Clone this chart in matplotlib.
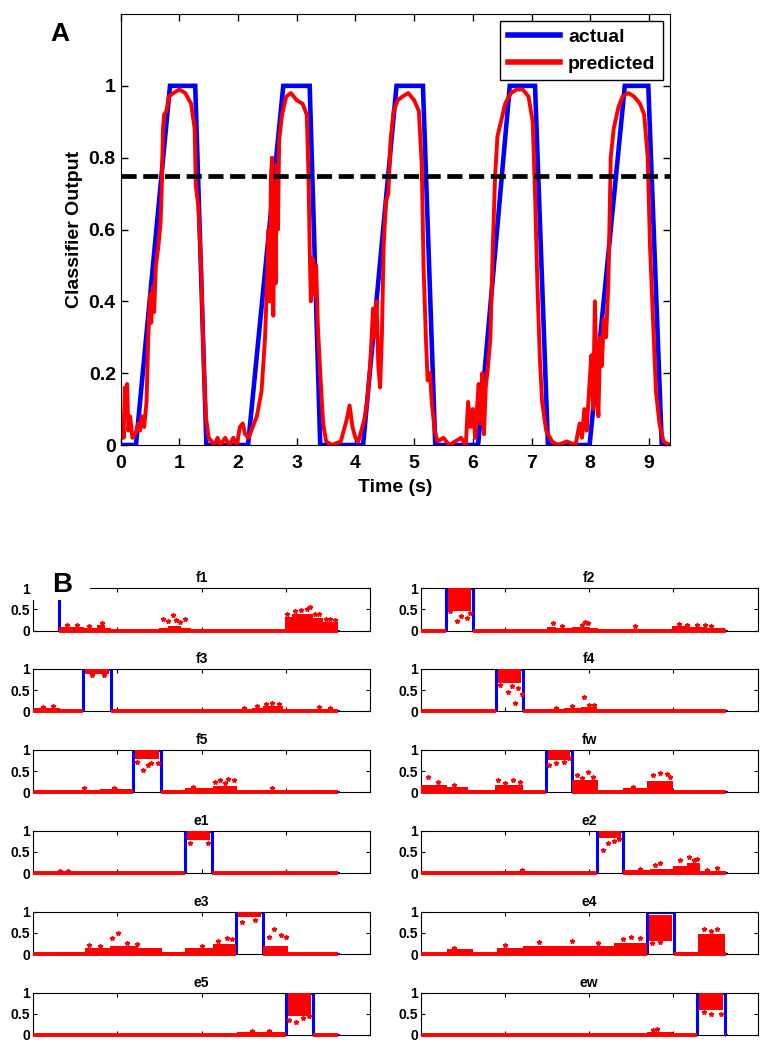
import matplotlib
matplotlib.use("Agg")
import matplotlib.pyplot as plt
from matplotlib.patches import Rectangle

plt.rcParams['font.family'] = ['Liberation Sans', 'DejaVu Sans']
plt.rcParams['font.weight'] = 'bold'
plt.rcParams['axes.labelweight'] = 'bold'

W, H = 771, 1050

# ---- panel A data ----
actual_t = [0, 0.26, 0.84, 1.27, 1.46, 2.17, 2.77, 3.22, 3.40, 4.13, 4.70, 5.15,
            5.36, 6.09, 6.63, 7.06, 7.28, 7.99, 8.59, 8.99, 9.22, 9.36]
actual_v = [0, 0, 1, 1, 0, 0, 1, 1, 0, 0, 1, 1, 0, 0, 1, 1, 0, 0, 1, 1, 0, 0]

pred_t = [0.00, 0.03, 0.05, 0.07, 0.09, 0.11, 0.13, 0.16, 0.20, 0.25, 0.30, 0.33, 0.36, 0.40,
          0.44, 0.47, 0.50, 0.52, 0.55, 0.57, 0.60, 0.64, 0.68, 0.70, 0.72, 0.74, 0.78, 0.82,
          0.90, 1.00, 1.10, 1.20, 1.26, 1.28, 1.32, 1.37, 1.41, 1.45, 1.50, 1.60, 1.65, 1.70,
          1.78, 1.85, 1.92, 1.98, 2.03, 2.08, 2.12, 2.18, 2.25, 2.32, 2.40, 2.46, 2.50, 2.52,
          2.54, 2.56, 2.58, 2.60, 2.62, 2.64, 2.66, 2.68, 2.70, 2.75, 2.82, 2.90, 3.00, 3.10,
          3.17, 3.20, 3.22, 3.24, 3.27, 3.30, 3.33, 3.36, 3.40, 3.45, 3.50, 3.60, 3.75, 3.85,
          3.90, 3.95, 4.00, 4.05, 4.10, 4.15, 4.20, 4.25, 4.30, 4.33, 4.36, 4.39, 4.42, 4.45,
          4.48, 4.52, 4.56, 4.60, 4.65, 4.72, 4.80, 4.90, 5.00, 5.08, 5.13, 5.16, 5.20, 5.23,
          5.27, 5.30, 5.35, 5.40, 5.50, 5.60, 5.70, 5.80, 5.88, 5.92, 5.96, 6.00, 6.04, 6.07,
          6.10, 6.13, 6.16, 6.19, 6.22, 6.26, 6.30, 6.34, 6.38, 6.42, 6.48, 6.55, 6.65, 6.75,
          6.85, 6.95, 7.02, 7.06, 7.10, 7.14, 7.18, 7.25, 7.35, 7.45, 7.60, 7.75, 7.82, 7.86,
          7.90, 7.94, 7.98, 8.02, 8.05, 8.08, 8.11, 8.14, 8.17, 8.20, 8.23, 8.27, 8.31, 8.35,
          8.40, 8.48, 8.55, 8.65, 8.75, 8.85, 8.92, 8.98, 9.02, 9.07, 9.12, 9.18, 9.25, 9.35]
pred_v = [0.02, 0.08, 0.02, 0.16, 0.12, 0.17, 0.04, 0.08, 0.02, 0.03, 0.06, 0.04, 0.08, 0.05,
          0.12, 0.30, 0.42, 0.34, 0.44, 0.37, 0.50, 0.55, 0.62, 0.72, 0.88, 0.92, 0.93, 0.97,
          0.98, 0.99, 0.98, 0.95, 0.88, 0.72, 0.67, 0.50, 0.25, 0.08, 0.02, 0.00, 0.02, 0.00,
          0.02, 0.00, 0.02, 0.00, 0.05, 0.06, 0.03, 0.02, 0.05, 0.08, 0.15, 0.30, 0.48, 0.60,
          0.40, 0.75, 0.80, 0.36, 0.72, 0.45, 0.78, 0.60, 0.85, 0.92, 0.97, 0.98, 0.96, 0.95,
          0.92, 0.75, 0.55, 0.40, 0.52, 0.42, 0.50, 0.33, 0.20, 0.06, 0.01, 0.00, 0.01, 0.07,
          0.11, 0.05, 0.02, 0.01, 0.04, 0.07, 0.12, 0.22, 0.38, 0.30, 0.40, 0.22, 0.16, 0.30,
          0.55, 0.68, 0.70, 0.85, 0.93, 0.96, 0.97, 0.98, 0.96, 0.93, 0.78, 0.50, 0.30, 0.18,
          0.20, 0.12, 0.04, 0.01, 0.02, 0.00, 0.01, 0.02, 0.00, 0.12, 0.05, 0.10, 0.02, 0.10,
          0.17, 0.06, 0.20, 0.03, 0.16, 0.22, 0.30, 0.55, 0.75, 0.86, 0.90, 0.95, 0.98, 0.99,
          0.99, 0.97, 0.90, 0.70, 0.45, 0.25, 0.12, 0.04, 0.01, 0.00, 0.01, 0.00, 0.06, 0.02,
          0.10, 0.04, 0.15, 0.25, 0.10, 0.40, 0.18, 0.08, 0.30, 0.22, 0.35, 0.30, 0.45, 0.80,
          0.88, 0.94, 0.97, 0.98, 0.97, 0.95, 0.92, 0.80, 0.55, 0.35, 0.15, 0.06, 0.01, 0.00]
threshold = 0.75

# ---- panel B data (sample index axis) ----
titles = ['f1', 'f2', 'f3', 'f4', 'f5', 'fw', 'e1', 'e2', 'e3', 'e4', 'e5', 'ew']
n_samples = 1810
pulse_on = [0, 148, 299, 447, 595, 744, 902, 1044, 1205, 1341, 1501, 1642]
pulse_off = [156, 312, 463, 609, 760, 900, 1060, 1203, 1363, 1503, 1660, 1806]
band_lo = [0.85, 0.45, 0.88, 0.68, 0.78, 0.76, 0.78, 0.82, 0.88, 0.32, 0.45, 0.6]
band_hi = [1.0, 1.0, 1.0, 1.0, 1.0, 1.0, 1.0, 1.0, 1.0, 0.93, 1.0, 1.0]

# (start, end, level) of the dense predicted-noise clouds
noise = [
    [(156, 300, 0.09), (300, 380, 0.07), (380, 430, 0.12), (430, 460, 0.05), (460, 750, 0.02),
     (750, 800, 0.07), (800, 880, 0.1), (880, 940, 0.07), (940, 1060, 0.04), (1060, 1495, 0.01),
     (1495, 1540, 0.32), (1540, 1600, 0.38), (1600, 1660, 0.4), (1660, 1720, 0.3), (1720, 1810, 0.2)],
    [(0, 148, 0.02), (312, 748, 0.02), (748, 800, 0.08), (800, 900, 0.06), (900, 1000, 0.09),
     (1000, 1054, 0.05), (1054, 1490, 0.02), (1490, 1600, 0.1), (1600, 1700, 0.08), (1700, 1806, 0.05)],
    [(0, 160, 0.07), (160, 299, 0.04), (463, 990, 0.03), (990, 1210, 0.03), (1210, 1300, 0.05),
     (1300, 1367, 0.09), (1367, 1485, 0.13), (1485, 1655, 0.02), (1655, 1810, 0.06)],
    [(0, 447, 0.03), (609, 748, 0.02), (748, 850, 0.06), (850, 950, 0.09), (950, 1044, 0.11),
     (1044, 1806, 0.03)],
    [(0, 160, 0.02), (160, 400, 0.05), (400, 595, 0.07), (760, 902, 0.02), (902, 1000, 0.09),
     (1000, 1070, 0.11), (1070, 1208, 0.14), (1208, 1357, 0.02), (1357, 1466, 0.06),
     (1466, 1655, 0.02), (1655, 1810, 0.05)],
    [(0, 154, 0.18), (154, 283, 0.13), (283, 441, 0.05), (441, 609, 0.18), (609, 742, 0.02),
     (900, 1054, 0.28), (1054, 1202, 0.03), (1202, 1341, 0.09), (1341, 1500, 0.27),
     (1500, 1657, 0.03), (1657, 1806, 0.05)],
    [(0, 902, 0.02), (1060, 1810, 0.02)],
    [(0, 450, 0.01), (450, 748, 0.05), (748, 1044, 0.01), (1203, 1360, 0.07), (1360, 1500, 0.11),
     (1500, 1580, 0.18), (1580, 1657, 0.23), (1657, 1737, 0.05), (1737, 1806, 0.05)],
    [(0, 170, 0.02), (170, 309, 0.05), (309, 457, 0.14), (457, 625, 0.18), (625, 764, 0.14),
     (764, 902, 0.05), (902, 1070, 0.14), (1070, 1205, 0.23), (1363, 1515, 0.18), (1515, 1810, 0.03)],
    [(0, 154, 0.03), (154, 312, 0.11), (312, 450, 0.03), (450, 609, 0.14), (609, 800, 0.18),
     (800, 1000, 0.2), (1000, 1150, 0.19), (1150, 1341, 0.25), (1503, 1648, 0.06), (1648, 1806, 0.48)],
    [(0, 1010, 0.01), (1010, 1208, 0.03), (1208, 1495, 0.06), (1660, 1810, 0.02)],
    [(0, 1341, 0.01), (1341, 1500, 0.07), (1500, 1642, 0.02)],
]

# isolated predicted points sticking out of the clouds
outliers = [
    [(407, 0.18), (773, 0.28), (803, 0.22), (829, 0.36), (850, 0.25), (872, 0.2), (902, 0.26),
     (200, 0.12), (260, 0.13), (330, 0.1), (1510, 0.4), (1555, 0.45), (1590, 0.48), (1624, 0.5),
     (1645, 0.55), (1675, 0.38), (1700, 0.4), (1740, 0.27), (1760, 0.28), (1790, 0.25)],
    [(174, 0.45), (214, 0.22), (240, 0.35), (273, 0.3), (290, 0.42), (787, 0.18), (840, 0.1),
     (960, 0.12), (975, 0.2), (995, 0.18), (1272, 0.1), (1530, 0.15), (1580, 0.13),
     (1640, 0.14), (1690, 0.12), (1720, 0.1)],
    [(350, 0.86), (420, 0.85), (60, 0.1), (120, 0.12), (1250, 0.07), (1330, 0.12), (1380, 0.18),
     (1420, 0.2), (1460, 0.17), (1700, 0.1), (1760, 0.09)],
    [(470, 0.62), (520, 0.45), (540, 0.6), (560, 0.19), (580, 0.55), (600, 0.42), (800, 0.09),
     (900, 0.12), (969, 0.33), (1000, 0.16), (1030, 0.14)],
    [(620, 0.72), (651, 0.53), (680, 0.65), (700, 0.7), (740, 0.68), (300, 0.1), (480, 0.09),
     (950, 0.12), (1080, 0.25), (1110, 0.3), (1140, 0.22), (1160, 0.32), (1190, 0.28), (1420, 0.1)],
    [(760, 0.65), (800, 0.7), (850, 0.72), (880, 0.8), (45, 0.35), (100, 0.25), (200, 0.18),
     (460, 0.3), (500, 0.22), (550, 0.28), (590, 0.25), (930, 0.4), (960, 0.33), (995, 0.48),
     (1020, 0.35), (1260, 0.12), (1380, 0.4), (1420, 0.45), (1460, 0.42), (1480, 0.35)],
    [(930, 0.72), (1040, 0.7), (160, 0.05), (210, 0.06), (1500, 0.04)],
    [(1084, 0.55), (1110, 0.7), (1150, 0.75), (1175, 0.8), (600, 0.07), (1300, 0.1),
     (1390, 0.2), (1420, 0.25), (1540, 0.3), (1590, 0.38), (1620, 0.3), (1640, 0.33),
     (1700, 0.08), (1760, 0.12)],
    [(1240, 0.75), (1320, 0.8), (330, 0.22), (400, 0.2), (467, 0.37), (506, 0.5), (560, 0.25),
     (620, 0.24), (1000, 0.2), (1100, 0.3), (1150, 0.38), (1180, 0.35), (1400, 0.4),
     (1430, 0.6), (1470, 0.45), (1500, 0.4)],
    [(1370, 0.25), (1420, 0.28), (200, 0.15), (500, 0.22), (700, 0.28), (900, 0.3), (1050, 0.26),
     (1200, 0.35), (1250, 0.4), (1300, 0.38), (1680, 0.6), (1720, 0.55), (1760, 0.58)],
    [(1520, 0.35), (1560, 0.3), (1600, 0.4), (1640, 0.45), (1300, 0.1), (1400, 0.09)],
    [(1680, 0.55), (1720, 0.5), (1780, 0.5), (1380, 0.12), (1400, 0.15)],
]

BLUE = '#0000ff'
RED = '#ff0000'

fig = plt.figure(figsize=(W / 100, H / 100), dpi=100)

# ---------------- panel A ----------------
axA = fig.add_axes([120.7 / W, 1 - 445 / H, 549.3 / W, 431 / H])
axA.plot(actual_t, actual_v, color=BLUE, lw=3.3, label='actual', solid_joinstyle='miter')
axA.plot(pred_t, pred_v, color=RED, lw=2.8, label='predicted')
axA.axhline(threshold, color='black', lw=3.4, dashes=(3.2, 1.4))
axA.set_xlim(0, 9.36)
axA.set_ylim(0, 1.2)
axA.set_xticks(range(10))
axA.set_yticks([0, 0.2, 0.4, 0.6, 0.8, 1])
axA.set_yticklabels(['0', '0.2', '0.4', '0.6', '0.8', '1'])
axA.tick_params(direction='in', top=True, right=True, length=5, width=1, labelsize=14)
axA.tick_params(axis='x', pad=7)
axA.set_xlabel('Time (s)', fontsize=14, labelpad=5)
axA.set_ylabel('Classifier Output', fontsize=14, labelpad=4)
leg = axA.legend(loc='upper right', fontsize=14, handlelength=2.7, borderaxespad=0.35,
                 fancybox=False, framealpha=1, edgecolor='black', borderpad=0.4,
                 labelspacing=0.45, handletextpad=0.4)
leg.get_frame().set_linewidth(1)
for h in leg.get_lines():
    h.set_linewidth(4)
fig.text(50 / W, 1 - 22 / H, 'A', fontsize=19, fontweight='bold', va='top', ha='left')

# ---------------- panel B ----------------
for i, name in enumerate(titles):
    row, col = i // 2, i % 2
    left = 33 if col == 0 else 420.7
    top = 588 + row * 80.9
    ax = fig.add_axes([left / W, 1 - (top + 42.5) / H, 337 / W, 42.5 / H])
    on, off = pulse_on[i], pulse_off[i]
    if on > 0:
        bx, by = [0, on, on, off, off, n_samples], [0, 0, 1, 1, 0, 0]
    else:
        bx, by = [0, off, off, n_samples], [1, 1, 0, 0]
    ax.plot(bx, by, color=BLUE, lw=2.2, zorder=2)
    for x0, x1, lev in noise[i]:
        ax.fill_between([x0, x1], 0, lev, color=RED, lw=0, zorder=3)
    ax.fill_between([on + 12, off - 12], band_lo[i], band_hi[i], color=RED, lw=0, zorder=3)
    ax.plot([0, on], [0, 0], color=RED, lw=2.8, zorder=3, clip_on=False, solid_capstyle='butt')
    ax.plot([off, n_samples], [0, 0], color=RED, lw=2.8, zorder=3, clip_on=False,
            solid_capstyle='butt')
    xs = [p[0] for p in outliers[i]]
    ys = [p[1] for p in outliers[i]]
    ax.plot(xs, ys, '*', color=RED, ms=3.5, zorder=4, clip_on=False)
    ax.set_xlim(0, 2000)
    ax.set_ylim(0, 1)
    ax.set_xticks([500, 1000, 1500])
    ax.set_yticks([0, 0.5, 1])
    ax.set_yticklabels(['0', '0.5', '1'])
    ax.tick_params(direction='in', top=True, right=True, length=3, width=0.8,
                   labelsize=10, pad=2, labelbottom=False)
    for s in ax.spines.values():
        s.set_linewidth(0.8)
    ax.set_title(name, fontsize=10, fontweight='bold', pad=4)

# white box behind the B label (covers corner of first subplot, as in the figure)
fig.patches.append(Rectangle((31 / W, 1 - 600 / H), 59 / W, 36 / H, transform=fig.transFigure,
                             facecolor='white', edgecolor='none', zorder=10))
fig.text(52 / W, 1 - 572 / H, 'B', fontsize=20, fontweight='bold', va='top', ha='left', zorder=11)

fig.savefig('out.png', dpi=100)
